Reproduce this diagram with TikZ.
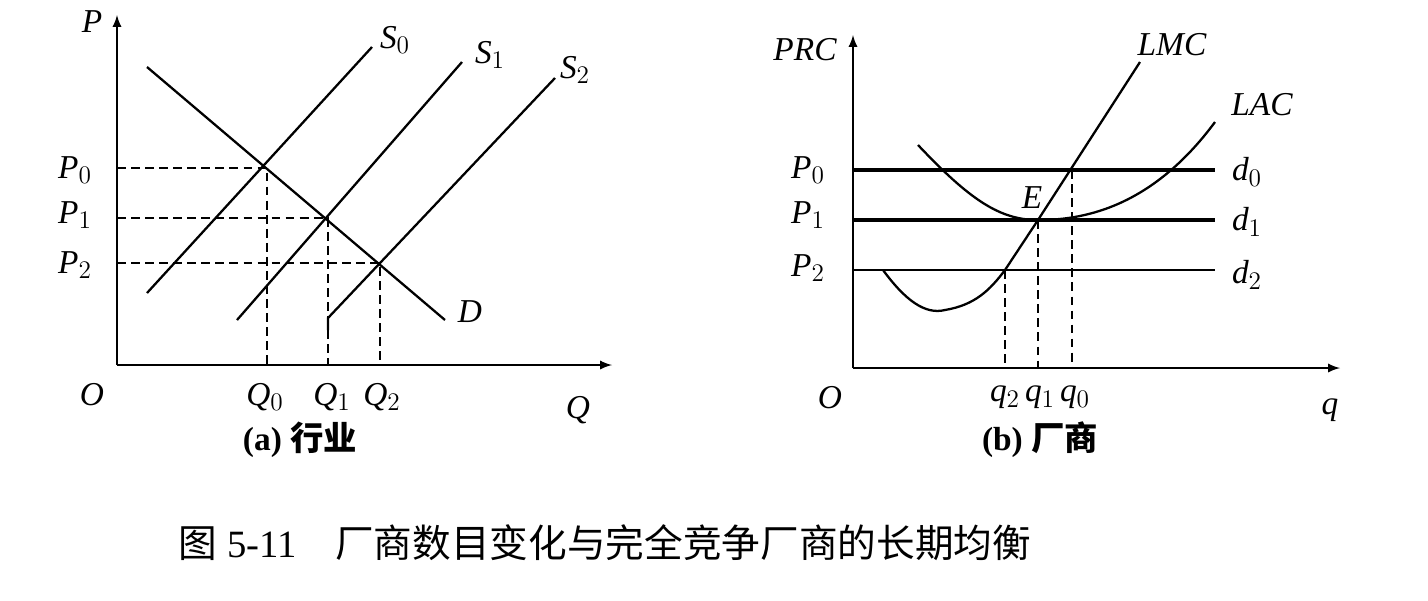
\documentclass[tikz,border=0pt]{standalone}
\usepackage{fontspec}
\setmainfont{Liberation Serif}
\newfontfamily\cjk{Noto Sans CJK SC}
\usetikzlibrary{arrows}

\begin{document}
\begin{tikzpicture}[x=0.02cm,y=-0.02cm,line width=1.3pt,
  lbl/.style={font=\fontsize{19}{22}\selectfont\itshape},
  caption/.style={font=\fontsize{19}{22}\selectfont\bfseries},
  guide/.style={dash pattern=on 5pt off 3pt,line width=1pt}]
  \useasboundingbox (0,0) rectangle (1428,600);
  % panel (a)
  \coordinate (oa) at (117,365);
  \draw[-latex] (oa) -- (117,15);
  \draw[-latex] (oa) -- (612,365);
  \draw (147,293) -- (372,47) coordinate (s0);
  \draw (237,320) -- (462,62) coordinate (s1);
  \draw (328,330) -- (328,318) -- (555,78) coordinate (s2);
  \draw (147,67) -- (445,320) coordinate (dd);
  \coordinate (e0) at (267,168);
  \coordinate (e1) at (328,218);
  \coordinate (e2) at (380,263);
  \foreach \e/\y in {e0/168,e1/218,e2/263}
    \draw[guide] (117,\y) -| (\e) -- (\e |- oa);
  \node[lbl] (lp) at (92,22) {P};
  \node[lbl] (loa) at (92,395) {O};
  \node[lbl] (lq) at (578,410) {Q};
  \node[lbl] (ls0) at (395,40) {S$_0$};
  \node[lbl] (ls1) at (490,55) {S$_1$};
  \node[lbl] (ls2) at (575,70) {S$_2$};
  \node[lbl] (ld) at (470,312) {D};
  \node[lbl] (lp0) at (75,170) {P$_0$};
  \node[lbl] (lp1) at (75,215) {P$_1$};
  \node[lbl] (lp2) at (75,265) {P$_2$};
  \node[lbl] (lq0) at (265,397) {Q$_0$};
  \node[lbl] (lq1) at (332,397) {Q$_1$};
  \node[lbl] (lq2) at (382,397) {Q$_2$};
  \node[caption] (capa) at (300,440) {(a) {\cjk 行业}};
  % panel (b)
  \coordinate (ob) at (853,368);
  \draw[-latex] (ob) -- (853,35);
  \draw[-latex] (ob) -- (1340,368);
  \foreach \y/\w in {170/1.8pt,220/1.8pt,270/1.3pt}
    \draw[line width=\w] (853,\y) -- (1215,\y);
  \draw (883,270) .. controls (905,300) and (925,315) .. (945,310)
        .. controls (975,305) and (990,290) .. (1005,270) -- (1038,220) -- (1140,62);
  \draw (918,145) .. controls (970,200) and (1000,220) .. (1038,220)
        .. controls (1080,220) and (1150,210) .. (1215,122);
  \coordinate (f2) at (1005,270);
  \coordinate (f1) at (1038,220);
  \coordinate (f0) at (1072,170);
  \foreach \f in {f2,f1,f0}
    \draw[guide] (\f) -- (\f |- ob);
  \node[lbl] (lprc) at (805,50) {PRC};
  \node[lbl] (lob) at (830,398) {O};
  \node[lbl] (lqq) at (1330,410) {q};
  \node[lbl] (llmc) at (1172,45) {LMC};
  \node[lbl] (llac) at (1262,105) {LAC};
  \node[lbl] (le) at (1032,198) {E};
  \node[lbl] (ld0) at (1247,172) {d$_0$};
  \node[lbl] (ld1) at (1247,222) {d$_1$};
  \node[lbl] (ld2) at (1247,275) {d$_2$};
  \node[lbl] (lbp0) at (808,170) {P$_0$};
  \node[lbl] (lbp1) at (808,215) {P$_1$};
  \node[lbl] (lbp2) at (808,268) {P$_2$};
  \node[lbl] (lq2b) at (1005,397) {q$_2$};
  \node[lbl] (lq1b) at (1040,397) {q$_1$};
  \node[lbl] (lq0b) at (1075,397) {q$_0$};
  \node[caption] (capb) at (1040,440) {(b) {\cjk 厂商}};
  \node[font=\fontsize{22}{26}\selectfont] (title) at (605,543) {{\cjk 图} 5-11\quad{\cjk 厂商数目变化与完全竞争厂商的长期均衡}};
\end{tikzpicture}
\end{document}
